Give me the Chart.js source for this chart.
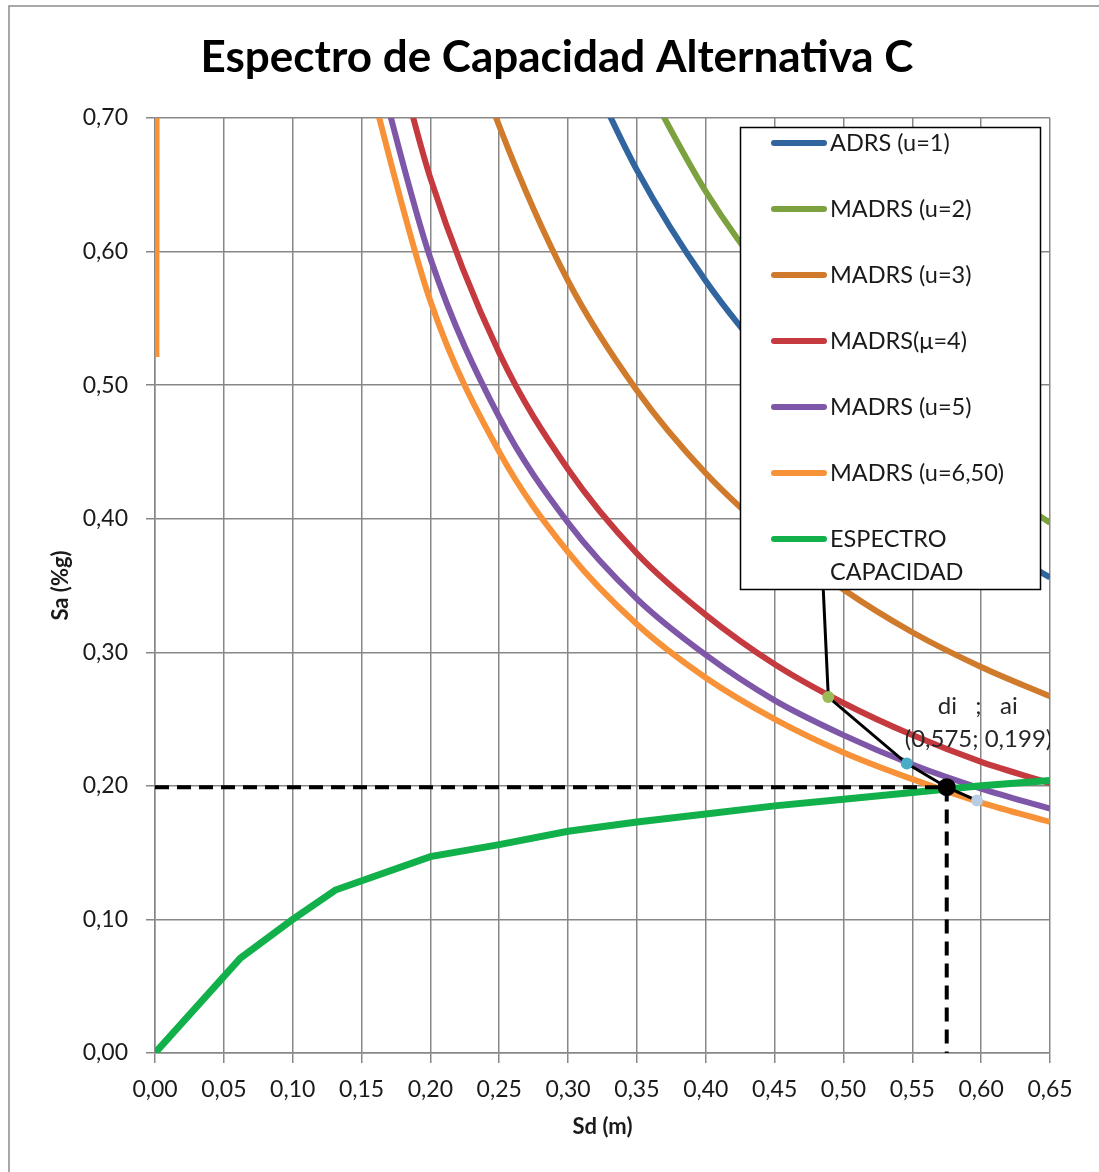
<!DOCTYPE html>
<html>
<head>
<meta charset="utf-8">
<script src="https://cdn.jsdelivr.net/npm/chart.js@4.4.1/dist/chart.umd.min.js"></script>
<style>
  html, body { margin: 0; padding: 0; background: #fff; }
  #espectroChart { display: block; width: 1099px; height: 1172px; }
</style>
</head>
<body>
<canvas id="espectroChart" width="1099" height="1172"></canvas>
<script>
// Datos (Sd en m, Sa en %g)
const sdU1 = [0.31, 0.35, 0.40, 0.45, 0.50, 0.55, 0.60, 0.65];
const saU1 = [0.746, 0.661, 0.578, 0.514, 0.463, 0.421, 0.386, 0.356];

const sdU2 = [0.345, 0.40, 0.45, 0.50, 0.55, 0.60, 0.65];
const saU2 = [0.748, 0.645, 0.573, 0.516, 0.469, 0.430, 0.397];

const sdU3 = [0.23, 0.25, 0.30, 0.35, 0.40, 0.45, 0.50, 0.55, 0.60, 0.65];
const saU3 = [0.754, 0.694, 0.578, 0.496, 0.434, 0.386, 0.347, 0.315, 0.289, 0.267];

const sdU4 = [0.175, 0.20, 0.25, 0.30, 0.35, 0.40, 0.45, 0.50, 0.55, 0.60, 0.65];
const saU4 = [0.749, 0.655, 0.524, 0.437, 0.374, 0.328, 0.291, 0.262, 0.238, 0.218, 0.202];

const sdU5 = [0.16, 0.20, 0.25, 0.30, 0.35, 0.40, 0.45, 0.50, 0.55, 0.60, 0.65];
const saU5 = [0.744, 0.595, 0.476, 0.397, 0.340, 0.298, 0.264, 0.238, 0.216, 0.198, 0.183];

// el tramo vertical en Sd ~ 0 y la curva, separados por un hueco
const sdU65 = [0.001, 0.0012, 0.08, 0.15, 0.20, 0.25, 0.30, 0.35, 0.40, 0.45, 0.50, 0.55, 0.60, 0.65];
const saU65 = [0.521, 0.75, null, 0.75, 0.563, 0.450, 0.375, 0.321, 0.281, 0.250, 0.225, 0.205, 0.1875, 0.173];

const sdCap = [0, 0.062, 0.10, 0.131, 0.20, 0.25, 0.30, 0.35, 0.40, 0.45, 0.50, 0.55, 0.60, 0.65];
const saCap = [0, 0.071, 0.100, 0.122, 0.147, 0.156, 0.166, 0.173, 0.179, 0.185, 0.190, 0.195, 0.200, 0.204];

// iteraciones hasta el punto de desempeno
const sdIter = [0.482, 0.489, 0.546, 0.575, 0.597];
const saIter = [0.42, 0.2665, 0.2167, 0.199, 0.189];

// punto de desempeno (di ; ai)
const diPunto = 0.575;
const aiPunto = 0.199;
const sdGuia = [0, diPunto, diPunto];
const saGuia = [aiPunto, aiPunto, 0];

const xTicks = { min: 0, max: 0.65, step: 0.05 };
const yTicks = { min: 0, max: 0.70, step: 0.10 };

const pts = (xs, ys) => xs.map((x, i) => ({ x: x, y: ys[i] }));
const coma = v => Number(v).toFixed(2).replace('.', ',');

Chart.defaults.font.family = 'Lato';
Chart.defaults.color = '#1a1a1a';

function curva(label, legendText, xs, ys, color, order) {
  return {
    label: label,
    legendText: legendText,
    data: pts(xs, ys),
    borderColor: color,
    backgroundColor: color,
    borderWidth: 6,
    pointRadius: 0,
    cubicInterpolationMode: 'monotone',
    spanGaps: false,
    order: order
  };
}

const fondo = {
  id: 'fondo',
  beforeDraw(chart) {
    const c = chart.ctx;
    c.save();
    c.fillStyle = '#fff';
    c.fillRect(0, 0, chart.width, chart.height);
    c.strokeStyle = '#8c8c8c';
    c.lineWidth = 1.5;
    c.beginPath();
    c.moveTo(9, chart.height);
    c.lineTo(9, 6);
    c.lineTo(chart.width, 6);
    c.stroke();
    // titulo
    c.fillStyle = '#000';
    c.font = 'bold 44px Lato';
    c.textAlign = 'center';
    c.textBaseline = 'middle';
    c.fillText('Espectro de Capacidad Alternativa C', 557, 58);
    c.restore();
  }
};

const etiqueta = {
  id: 'etiqueta',
  afterDatasetsDraw(chart) {
    const c = chart.ctx;
    const a = chart.chartArea;
    const px = chart.scales.x.getPixelForValue(diPunto);
    const py = chart.scales.y.getPixelForValue(aiPunto);
    c.save();
    c.beginPath();
    c.rect(a.left, a.top, a.right - a.left, a.bottom - a.top);
    c.clip();
    c.fillStyle = '#262626';
    c.font = '24px Lato';
    c.textAlign = 'left';
    c.textBaseline = 'alphabetic';
    c.fillText('di   ;   ai', px - 9, py - 73);
    c.fillText('(' + String(diPunto).replace('.', ',') + '; ' + String(aiPunto).replace('.', ',') + ')', px - 42, py - 40);
    c.restore();
  }
};

const leyenda = {
  id: 'leyenda',
  afterDatasetsDraw(chart) {
    const c = chart.ctx;
    c.save();
    c.fillStyle = '#fff';
    c.fillRect(740, 127, 301, 463);
    c.strokeStyle = '#000';
    c.lineWidth = 1.5;
    c.strokeRect(740.5, 127.5, 300, 462);
    let y = 143;
    chart.data.datasets.forEach(ds => {
      if (!ds.legendText) return;
      c.strokeStyle = ds.borderColor;
      c.lineWidth = 6;
      c.lineCap = 'round';
      c.beginPath();
      c.moveTo(774, y);
      c.lineTo(824, y);
      c.stroke();
      c.fillStyle = '#1a1a1a';
      c.font = '23.5px Lato';
      c.textBaseline = 'middle';
      c.textAlign = 'left';
      ds.legendText.forEach((t, k) => c.fillText(t, 830, y + k * 33));
      y += 66;
    });
    c.restore();
  }
};

const ctx = document.getElementById('espectroChart').getContext('2d');

new Chart(ctx, {
  type: 'line',
  data: {
    datasets: [
      curva('ADRS (u=1)', ['ADRS (u=1)'], sdU1, saU1, '#30659F', 9),
      curva('MADRS (u=2)', ['MADRS (u=2)'], sdU2, saU2, '#7BA23F', 8),
      curva('MADRS (u=3)', ['MADRS (u=3)'], sdU3, saU3, '#D07A2C', 7),
      curva('MADRS(μ=4)', ['MADRS(μ=4)'], sdU4, saU4, '#C53A3E', 6),
      curva('MADRS (u=5)', ['MADRS (u=5)'], sdU5, saU5, '#7E57A8', 5),
      curva('MADRS (u=6,50)', ['MADRS (u=6,50)'], sdU65, saU65, '#F79239', 4),
      {
        label: 'ESPECTRO CAPACIDAD',
        legendText: ['ESPECTRO', 'CAPACIDAD'],
        data: pts(sdCap, saCap),
        borderColor: '#12B04A',
        backgroundColor: '#12B04A',
        borderWidth: 7,
        pointRadius: 0,
        tension: 0,
        order: 3
      },
      {
        label: 'guia',
        data: pts(sdGuia, saGuia),
        borderColor: '#000',
        borderWidth: 4,
        borderDash: [14, 8],
        pointRadius: 0,
        tension: 0,
        order: 2
      },
      {
        label: 'iteraciones',
        data: pts(sdIter, saIter),
        borderColor: '#000',
        borderWidth: 3,
        tension: 0,
        pointRadius: [0, 6, 6, 9, 6],
        pointBorderWidth: 0,
        pointBackgroundColor: ['#000', '#9BBB59', '#4BACC6', '#000', '#B8CCE4'],
        order: 1
      }
    ]
  },
  options: {
    responsive: false,
    animation: false,
    layout: { padding: { left: 0, right: 49, top: 118, bottom: 0 } },
    plugins: {
      legend: { display: false },
      tooltip: { enabled: false },
      title: { display: false }
    },
    scales: {
      x: {
        type: 'linear',
        min: xTicks.min,
        max: xTicks.max,
        afterFit(scale) { scale.height = 119; },
        ticks: {
          stepSize: xTicks.step,
          padding: 13,
          font: { size: 23 },
          maxRotation: 0,
          callback: v => coma(v)
        },
        grid: { color: '#878787', lineWidth: 1.5, tickLength: 10 },
        border: { color: '#878787', width: 1.5 },
        title: {
          display: true,
          text: 'Sd (m)',
          font: { size: 22, weight: 'bold', lineHeight: 1.2 },
          padding: { top: 0, bottom: 32 }
        }
      },
      y: {
        type: 'linear',
        min: yTicks.min,
        max: yTicks.max,
        afterFit(scale) { scale.width = 155; },
        ticks: {
          stepSize: yTicks.step,
          padding: 18,
          font: { size: 23 },
          callback: v => coma(v)
        },
        grid: { color: '#878787', lineWidth: 1.5, tickLength: 9 },
        border: { color: '#878787', width: 1.5 },
        title: {
          display: true,
          text: 'Sa (%g)',
          font: { size: 22, weight: 'bold', lineHeight: 1.2 },
          padding: { top: 48, bottom: 0 }
        }
      }
    }
  },
  plugins: [fondo, etiqueta, leyenda]
});
</script>
</body>
</html>
